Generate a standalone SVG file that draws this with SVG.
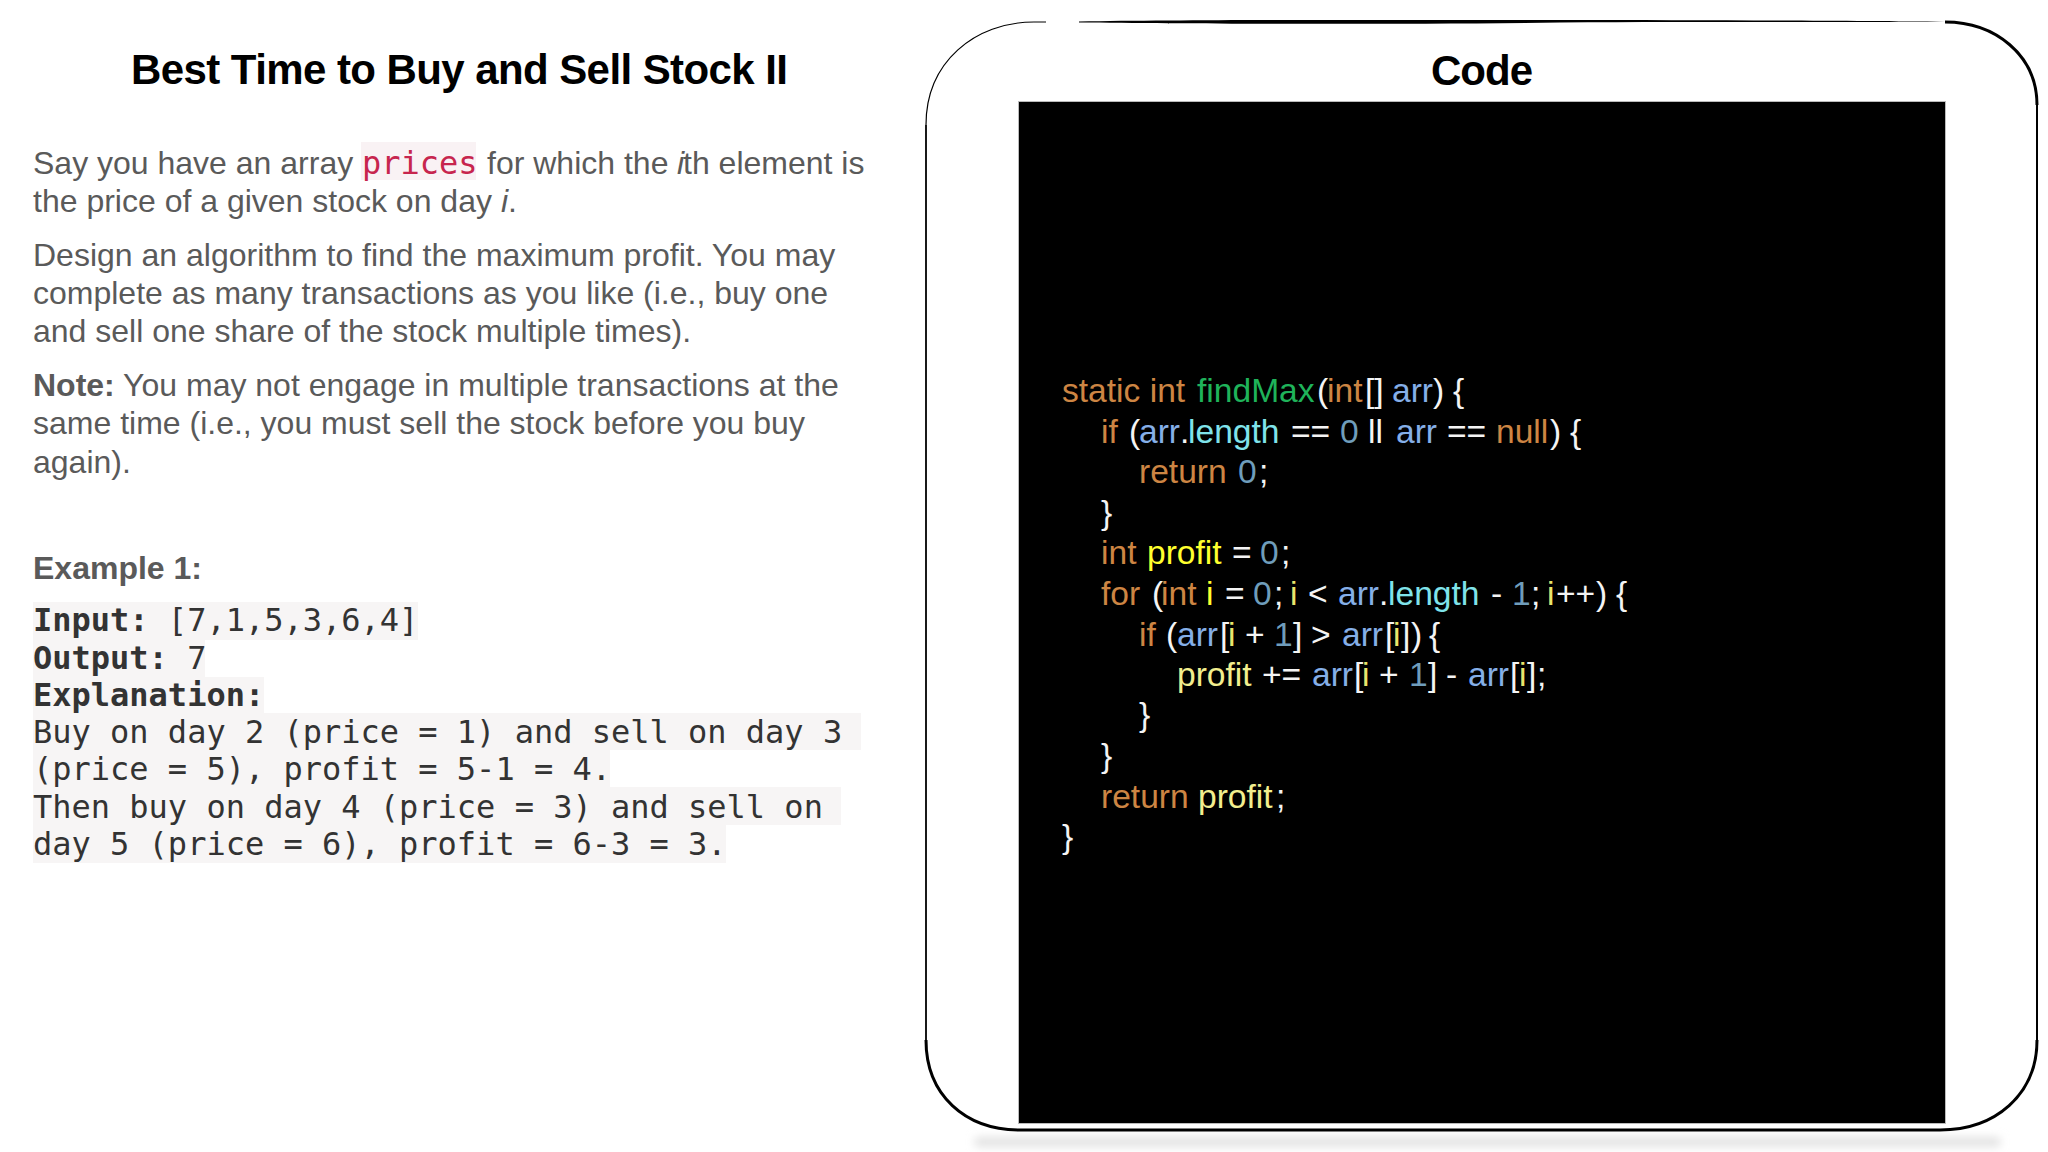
<svg xmlns="http://www.w3.org/2000/svg" width="2048" height="1152" viewBox="0 0 2048 1152">
<defs>
<filter id="blur" x="-10%" y="-300%" width="120%" height="700%"><feGaussianBlur stdDeviation="5"/></filter>
</defs>
<style>
text{white-space:pre}
.title{font:bold 42px "Liberation Sans",Arial,sans-serif;fill:#000}
.b{font:32px "Liberation Sans",Arial,sans-serif;fill:#5a5a5a}
.bb{font-weight:bold}
.it{font-style:italic}
.m{font:32px "DejaVu Sans Mono",monospace;fill:#333}
.mb{font-weight:bold}
.bg{fill:#f7f5f5}
.c{font:33.6px "Liberation Sans",Arial,sans-serif;fill:#f4f4f4}
.k{fill:#cd8543}.g{fill:#1fb35a}.a{fill:#85afe8}.l{fill:#7fe3ea}.n{fill:#6f9dbb}.y{fill:#ffff2e}.i{fill:#e8e66c}.p{fill:#f2ee8e}
.fr{fill:none;stroke:#000}
</style>
<rect width="2048" height="1152" fill="#fff"/>

<g id="problem">
<text class="title" x="131" y="84" textLength="657">Best Time to Buy and Sell Stock II</text>
<rect x="361" y="142" width="115" height="38" fill="#f9f2f4"/>
<text class="b" y="174"><tspan x="33">Say you have an array</tspan><tspan x="487">for which the</tspan><tspan x="677" class="it">i</tspan><tspan x="683">th element is</tspan></text>
<text class="m" x="362" y="174" style="fill:#c7254e">prices</text>
<text class="b" y="212"><tspan x="33">the price of a given stock on day </tspan><tspan x="501" class="it">i</tspan><tspan>.</tspan></text>
<text class="b" x="33" y="266">Design an algorithm to find the maximum profit. You may</text>
<text class="b" x="33" y="304">complete as many transactions as you like (i.e., buy one</text>
<text class="b" x="33" y="342">and sell one share of the stock multiple times).</text>
<text class="b" x="33" y="396"><tspan class="bb">Note:</tspan> You may not engage in multiple transactions at the</text>
<text class="b" x="33" y="434">same time (i.e., you must sell the stock before you buy</text>
<text class="b" x="33" y="473">again).</text>
</g>

<g id="example">
<text class="b bb" x="33" y="579">Example 1:</text>
<rect class="bg" x="33" y="602" width="385" height="38"/>
<rect class="bg" x="33" y="640" width="172" height="37"/>
<rect class="bg" x="33" y="677" width="231" height="36"/>
<rect class="bg" x="33" y="713" width="828" height="37"/>
<rect class="bg" x="33" y="750" width="577" height="37"/>
<rect class="bg" x="33" y="787" width="808" height="38"/>
<rect class="bg" x="33" y="825" width="693" height="38"/>
<text class="m" x="33" y="631"><tspan class="mb">Input:</tspan> [7,1,5,3,6,4]</text>
<text class="m" x="33" y="669"><tspan class="mb">Output:</tspan> 7</text>
<text class="m mb" x="33" y="706">Explanation:</text>
<text class="m" x="33" y="743">Buy on day 2 (price = 1) and sell on day 3</text>
<text class="m" x="33" y="780">(price = 5), profit = 5-1 = 4.</text>
<text class="m" x="33" y="818">Then buy on day 4 (price = 3) and sell on</text>
<text class="m" x="33" y="855">day 5 (price = 6), profit = 6-3 = 3.</text>
</g>

<g id="code-panel">
<rect x="975" y="1138" width="1025" height="8" fill="#dcdcdc" filter="url(#blur)"/>
<path class="fr" stroke-width="1.2" d="M1046 22H1034C975 22 926 62 926 125"/>
<path class="fr" stroke-width="1.8" d="M926 125V1040"/>
<path class="fr" stroke-width="2" d="M2037 105V1040"/>
<path class="fr" stroke-width="3" d="M926 1040C926 1095 965 1130 1020 1130H1940C1995 1130 2037 1095 2037 1040"/>
<path d="M1079 21.5C1200 19.5 1400 20 1560 20C1700 20 1850 21 1945 21.5C1850 22.5 1700 21.8 1560 22.5C1400 24.5 1200 24 1079 22.5Z" fill="#000"/>
<path class="fr" stroke-width="3" d="M1945 22C1995 22 2037 55 2037 105"/>
<text class="title" x="1431" y="85" textLength="102">Code</text>
<rect x="1018" y="101" width="928" height="1023" fill="#bbb"/>
<rect x="1019" y="102" width="926" height="1021" fill="#000"/>
</g>

<g id="code">
<text class="c" y="402"><tspan class="k" x="1062">static int</tspan><tspan class="g" x="1197">findMax</tspan><tspan x="1317">(</tspan><tspan class="k" x="1327">int</tspan><tspan x="1365">[]</tspan><tspan class="a" x="1392">arr</tspan><tspan x="1433">)</tspan><tspan x="1453">{</tspan></text>
<text class="c" y="443"><tspan class="k" x="1101">if</tspan><tspan x="1129">(</tspan><tspan class="a" x="1139">arr</tspan><tspan x="1180">.</tspan><tspan class="l" x="1188">length</tspan><tspan x="1291">==</tspan><tspan class="n" x="1340">0</tspan><tspan x="1368">ll</tspan><tspan class="a" x="1396">arr</tspan><tspan x="1447">==</tspan><tspan class="k" x="1496">null</tspan><tspan x="1550">)</tspan><tspan x="1570">{</tspan></text>
<text class="c" y="483"><tspan class="k" x="1139">return</tspan><tspan class="n" x="1238">0</tspan><tspan x="1259">;</tspan></text>
<text class="c" x="1101" y="524">}</text>
<text class="c" y="564"><tspan class="k" x="1101">int</tspan><tspan class="y" x="1147">profit</tspan><tspan x="1232">=</tspan><tspan class="n" x="1260">0</tspan><tspan x="1281">;</tspan></text>
<text class="c" y="605"><tspan class="k" x="1101">for</tspan><tspan x="1152">(</tspan><tspan class="k" x="1161">int</tspan><tspan class="y" x="1206">i</tspan><tspan x="1225">=</tspan><tspan class="n" x="1253">0</tspan><tspan x="1274">;</tspan><tspan class="i" x="1290">i</tspan><tspan x="1308">&lt;</tspan><tspan class="a" x="1338">arr</tspan><tspan x="1379">.</tspan><tspan class="l" x="1388">length</tspan><tspan x="1491">-</tspan><tspan class="n" x="1512">1</tspan><tspan x="1531">;</tspan><tspan class="i" x="1547">i</tspan><tspan x="1556">++</tspan><tspan x="1596">)</tspan><tspan x="1616">{</tspan></text>
<text class="c" y="646"><tspan class="k" x="1139">if</tspan><tspan x="1166">(</tspan><tspan class="a" x="1177">arr</tspan><tspan x="1220">[</tspan><tspan class="i" x="1228">i</tspan><tspan x="1245">+</tspan><tspan class="n" x="1274">1</tspan><tspan x="1293">]</tspan><tspan x="1311">&gt;</tspan><tspan class="a" x="1342">arr</tspan><tspan x="1385">[</tspan><tspan class="i" x="1393">i</tspan><tspan x="1401">]</tspan><tspan x="1411">)</tspan><tspan x="1429">{</tspan></text>
<text class="c" y="686"><tspan class="p" x="1177">profit</tspan><tspan x="1262">+=</tspan><tspan class="a" x="1312">arr</tspan><tspan x="1354">[</tspan><tspan class="i" x="1362">i</tspan><tspan x="1379">+</tspan><tspan class="n" x="1409">1</tspan><tspan x="1428">]</tspan><tspan x="1446">-</tspan><tspan class="a" x="1468">arr</tspan><tspan x="1510">[</tspan><tspan class="i" x="1519">i</tspan><tspan x="1527">]</tspan><tspan x="1537">;</tspan></text>
<text class="c" x="1139" y="726">}</text>
<text class="c" x="1101" y="767">}</text>
<text class="c" y="808"><tspan class="k" x="1101">return</tspan><tspan class="p" x="1198">profit</tspan><tspan x="1276">;</tspan></text>
<text class="c" x="1062" y="848">}</text>
</g>
</svg>
